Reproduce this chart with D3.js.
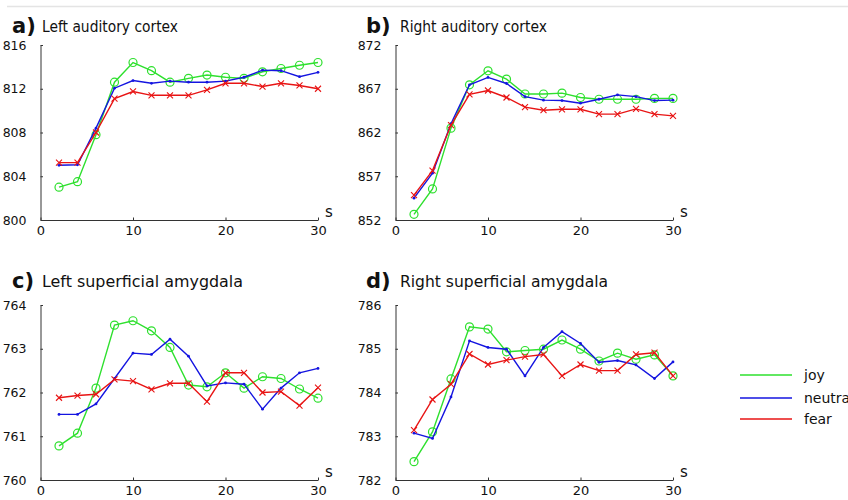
<!DOCTYPE html>
<html>
<head>
<meta charset="utf-8">
<script src="https://cdn.jsdelivr.net/npm/d3@7"></script>
<style>
  html, body { margin: 0; padding: 0; background: #fff; }
  svg { display: block; font-family: "DejaVu Sans", sans-serif; }
</style>
</head>
<body>
<svg id="chart" width="848" height="500"></svg>
<script>
// ---- data ----
const time = [2, 4, 6, 8, 10, 12, 14, 16, 18, 20, 22, 24, 26, 28, 30];
const xTicks = [0, 10, 20, 30];
const seriesNames = ["joy", "neutral", "fear"];

const panelLetters = ["a)", "b)", "c)", "d)"];
const panelTitles = ["Left auditory cortex", "Right auditory cortex", "Left superficial amygdala", "Right superficial amygdala"];

const yTicksA = [800, 804, 808, 812, 816];
const yTicksB = [852, 857, 862, 867, 872];
const yTicksC = [760, 761, 762, 763, 764];
const yTicksD = [782, 783, 784, 785, 786];

const joyA     = [803.0, 803.5, 807.8, 812.6, 814.4, 813.65, 812.6, 812.95, 813.25, 813.05, 812.95, 813.55, 813.85, 814.15, 814.4];
const neutralA = [805.0, 805.05, 808.4, 812.05, 812.75, 812.5, 812.7, 812.6, 812.6, 812.7, 813.05, 813.7, 813.65, 813.1, 813.5];
const fearA    = [805.25, 805.25, 808.0, 811.1, 811.75, 811.4, 811.4, 811.4, 811.9, 812.5, 812.5, 812.2, 812.5, 812.3, 812.0];

const joyB     = [852.65, 855.55, 862.5, 867.45, 869.05, 868.1, 866.4, 866.4, 866.5, 866.0, 865.8, 865.8, 865.8, 865.9, 865.9];
const neutralB = [854.5, 857.35, 863.0, 867.45, 868.3, 867.6, 866.1, 865.7, 865.65, 865.35, 865.8, 866.3, 866.1, 865.65, 865.7];
const fearB    = [854.85, 857.65, 862.85, 866.35, 866.8, 866.0, 864.9, 864.55, 864.65, 864.65, 864.1, 864.1, 864.7, 864.1, 863.9];

const joyC     = [760.78, 761.07, 762.1, 763.54, 763.64, 763.41, 763.03, 762.17, 762.13, 762.45, 762.1, 762.36, 762.32, 762.08, 761.87];
const neutralC = [761.5, 761.5, 761.74, 762.32, 762.9, 762.87, 763.22, 762.83, 762.15, 762.22, 762.19, 761.62, 762.1, 762.45, 762.55];
const fearC    = [761.88, 761.93, 761.96, 762.3, 762.26, 762.07, 762.21, 762.21, 761.79, 762.45, 762.45, 762.0, 762.02, 761.7, 762.11];

const joyD     = [782.42, 783.1, 784.31, 785.5, 785.45, 784.93, 784.96, 784.99, 785.2, 784.99, 784.72, 784.9, 784.76, 784.86, 784.38];
const neutralD = [783.07, 782.95, 783.9, 785.18, 785.03, 784.99, 784.38, 785.03, 785.39, 785.12, 784.69, 784.73, 784.63, 784.32, 784.7];
const fearD    = [783.14, 783.84, 784.19, 784.88, 784.64, 784.74, 784.82, 784.87, 784.38, 784.64, 784.5, 784.5, 784.87, 784.91, 784.38];

// ---- layout / style ----
const colors = { joy: "#2ee02e", neutral: "#1414e0", fear: "#e81414" };
const panels = [
  { letter: panelLetters[0], title: panelTitles[0], titleLen: 136, yTicks: yTicksA, series: [joyA, neutralA, fearA], x0: 40.5, x1: 318, yTop: 45, yBot: 220, lx: 12, tx: 42, ty: 32 },
  { letter: panelLetters[1], title: panelTitles[1], titleLen: 147, yTicks: yTicksB, series: [joyB, neutralB, fearB], x0: 395.5, x1: 673, yTop: 45, yBot: 220, lx: 366, tx: 400, ty: 32 },
  { letter: panelLetters[2], title: panelTitles[2], titleLen: 201, yTicks: yTicksC, series: [joyC, neutralC, fearC], x0: 40.5, x1: 318, yTop: 305, yBot: 480, lx: 12, tx: 42, ty: 287 },
  { letter: panelLetters[3], title: panelTitles[3], titleLen: 208, yTicks: yTicksD, series: [joyD, neutralD, fearD], x0: 395.5, x1: 673, yTop: 305, yBot: 480, lx: 366, tx: 400, ty: 287 }
];

const svg = d3.select("#chart");

// faint rule at the very top
svg.append("line").attr("x1", 7).attr("x2", 848).attr("y1", 6.5).attr("y2", 6.5)
  .attr("stroke", "#e4e4e4").attr("stroke-width", 1.5);

panels.forEach(p => {
  const g = svg.append("g");
  const x = d3.scaleLinear().domain([0, 30]).range([p.x0, p.x1]);
  const y = d3.scaleLinear().domain([p.yTicks[0], p.yTicks[p.yTicks.length - 1]]).range([p.yBot, p.yTop]);

  // title
  g.append("text").attr("x", p.lx).attr("y", p.ty + 1)
    .attr("font-size", 21).attr("font-weight", "bold").attr("fill", "#111").text(p.letter);
  g.append("text").attr("x", p.tx).attr("y", p.ty)
    .attr("font-size", 15.5).attr("fill", "#111")
    .attr("textLength", p.titleLen).attr("lengthAdjust", "spacingAndGlyphs").text(p.title);

  // axes
  const yAxis = d3.axisLeft(y).tickValues(p.yTicks).tickFormat(d3.format("d"))
    .tickSizeInner(-2.5).tickSizeOuter(0).tickPadding(14);
  const xAxis = d3.axisBottom(x).tickValues(xTicks).tickFormat(d3.format("d"))
    .tickSizeInner(-2.5).tickSizeOuter(0).tickPadding(6);
  const ya = g.append("g").attr("transform", `translate(${p.x0},0)`).call(yAxis);
  const xa = g.append("g").attr("transform", `translate(0,${p.yBot})`).call(xAxis);
  [ya, xa].forEach(a => {
    a.selectAll("path").attr("stroke", "#333");
    a.selectAll("line").attr("stroke", "#333");
    a.selectAll("text").attr("fill", "#111").attr("font-family", "DejaVu Sans, sans-serif");
  });
  ya.selectAll("text").attr("font-size", 12.5);
  xa.selectAll("text").attr("font-size", 13);

  // "s" unit label
  g.append("text").attr("x", p.x1 + 7).attr("y", p.yBot - 3)
    .attr("font-size", 15).attr("fill", "#111").text("s");

  // series
  const line = d3.line().x((d, i) => x(time[i])).y(d => y(d));
  p.series.forEach((vals, si) => {
    const name = seriesNames[si];
    const c = colors[name];
    g.append("path").datum(vals).attr("d", line)
      .attr("fill", "none").attr("stroke", c).attr("stroke-width", 1.4);
    const mk = g.append("g");
    vals.forEach((v, i) => {
      const cx = x(time[i]), cy = y(v);
      if (name === "joy") {
        mk.append("circle").attr("cx", cx).attr("cy", cy).attr("r", 4)
          .attr("fill", "none").attr("stroke", c).attr("stroke-width", 1.2);
      } else if (name === "neutral") {
        mk.append("circle").attr("cx", cx).attr("cy", cy).attr("r", 1.4).attr("fill", c);
      } else {
        const s = 3;
        mk.append("path").attr("d", `M${cx - s},${cy - s}L${cx + s},${cy + s}M${cx - s},${cy + s}L${cx + s},${cy - s}`)
          .attr("stroke", c).attr("stroke-width", 1.1);
      }
    });
  });
});

// legend
const legendY = [375, 398, 419];
const lg = svg.append("g");
seriesNames.forEach((n, i) => {
  lg.append("line").attr("x1", 740).attr("x2", 792).attr("y1", legendY[i]).attr("y2", legendY[i])
    .attr("stroke", colors[n]).attr("stroke-width", 1.4);
  lg.append("text").attr("x", 804).attr("y", legendY[i] + 5)
    .attr("font-size", 14).attr("fill", "#111").text(n);
});
</script>
</body>
</html>
